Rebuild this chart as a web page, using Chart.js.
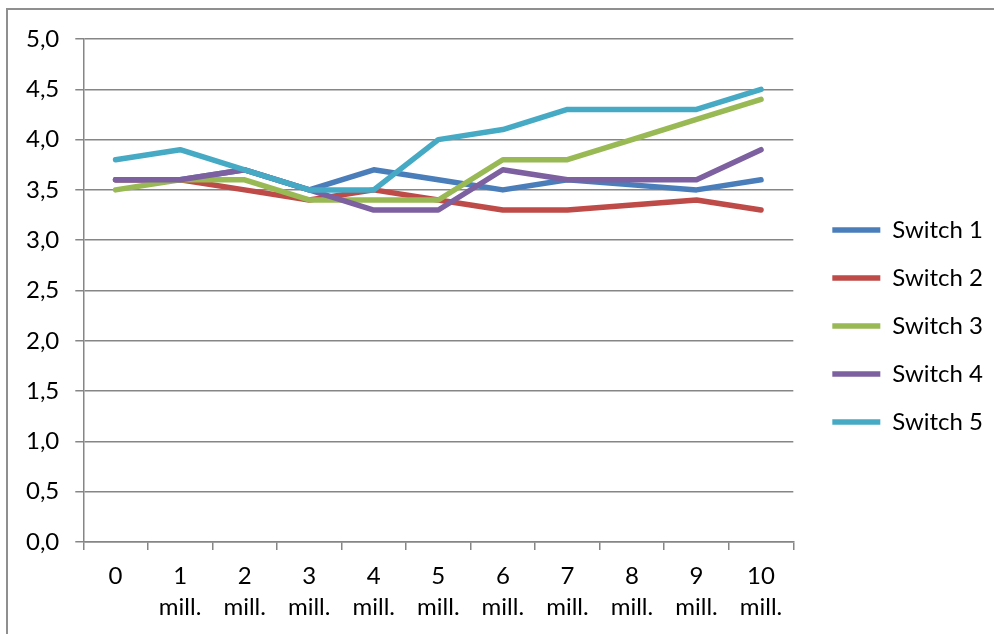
<!DOCTYPE html>
<html>
<head>
<meta charset="utf-8">
<script src="https://cdn.jsdelivr.net/npm/chart.js@4.4.1/dist/chart.umd.min.js"></script>
<style>
  html, body { margin: 0; padding: 0; background: #ffffff; }
  #wrap { width: 994px; height: 634px; position: relative; }
</style>
</head>
<body>
<div id="wrap"><canvas id="chart" width="994" height="634"></canvas></div>
<script>
// Category labels (two-line labels for the million marks)
const categories = [
  "0", ["1", "mill."], ["2", "mill."], ["3", "mill."], ["4", "mill."], ["5", "mill."],
  ["6", "mill."], ["7", "mill."], ["8", "mill."], ["9", "mill."], ["10", "mill."]
];

const seriesNames = ["Switch 1", "Switch 2", "Switch 3", "Switch 4", "Switch 5"];

const switch1 = [3.6, 3.6, 3.7, 3.5, 3.7, 3.6, 3.5, 3.6, 3.55, 3.5, 3.6];
const switch2 = [3.6, 3.6, 3.5, 3.4, 3.5, 3.4, 3.3, 3.3, 3.35, 3.4, 3.3];
const switch3 = [3.5, 3.6, 3.6, 3.4, 3.4, 3.4, 3.8, 3.8, 4.0, 4.2, 4.4];
const switch4 = [3.6, 3.6, 3.7, 3.5, 3.3, 3.3, 3.7, 3.6, 3.6, 3.6, 3.9];
const switch5 = [3.8, 3.9, 3.7, 3.5, 3.5, 4.0, 4.1, 4.3, 4.3, 4.3, 4.5];

const yTicksMin = 0;
const yTicksMax = 5;
const yTickStep = 0.5;

const seriesValues = [switch1, switch2, switch3, switch4, switch5];
const seriesColors = ["#4A7EBB", "#BE4B48", "#98B954", "#7D60A0", "#46AAC5"];

const gridColor = "#868686";

Chart.defaults.font.family = "Lato, 'Open Sans', sans-serif";
Chart.defaults.font.size = 24;
Chart.defaults.color = "#000000";

// Later series are painted on top of earlier ones
const datasets = seriesValues.map((vals, i) => ({
  label: seriesNames[i],
  data: vals,
  borderColor: seriesColors[i],
  backgroundColor: seriesColors[i],
  borderWidth: 5.5,
  borderCapStyle: "round",
  borderJoinStyle: "round",
  pointRadius: 0,
  pointHoverRadius: 0,
  pointStyle: "line",
  tension: 0,
  order: seriesValues.length - i
}));

// Outer frame around the chart
const framePlugin = {
  id: "frame",
  beforeDraw(chart) {
    const ctx = chart.ctx;
    ctx.save();
    ctx.strokeStyle = "#8f8f8f";
    ctx.lineWidth = 2;
    ctx.beginPath();
    ctx.moveTo(7, chart.height + 2);
    ctx.lineTo(7, 9);
    ctx.lineTo(chart.width + 2, 9);
    ctx.stroke();
    ctx.restore();
  }
};

// Nudge the legend block to sit a little off the plot area
const legendOffset = { x: 15, y: -5 };
const legendNudge = {
  id: "legendNudge",
  afterLayout(chart) {
    const lg = chart.legend;
    if (!lg) return;
    lg.left += legendOffset.x;
    lg.right += legendOffset.x;
    lg.top += legendOffset.y;
    lg.bottom += legendOffset.y;
  }
};

new Chart(document.getElementById("chart"), {
  type: "line",
  data: { labels: categories, datasets: datasets },
  plugins: [framePlugin, legendNudge],
  options: {
    responsive: false,
    devicePixelRatio: 1,
    animation: false,
    layout: { padding: { top: 39, bottom: 11, left: 10, right: 16 } },
    plugins: {
      tooltip: { enabled: false },
      legend: {
        position: "right",
        align: "center",
        labels: {
          usePointStyle: true,
          pointStyle: "line",
          pointStyleWidth: 48,
          padding: 24,
          color: "#000000",
          font: { size: 24 },
          sort: (a, b) => a.datasetIndex - b.datasetIndex
        }
      }
    },
    scales: {
      x: {
        type: "category",
        offset: true,
        grid: {
          display: true,
          offset: true,
          drawOnChartArea: false,
          drawTicks: true,
          tickLength: 8,
          color: gridColor,
          lineWidth: 1.5
        },
        border: { display: true, color: gridColor, width: 1.5 },
        ticks: {
          autoSkip: false,
          maxRotation: 0,
          minRotation: 0,
          padding: 11,
          color: "#000000",
          font: { size: 24, lineHeight: 31 / 24 }
        },
        afterFit(scale) {
          // keep only one tick padding below the labels
          scale.height -= scale.options.ticks.padding;
        }
      },
      y: {
        min: yTicksMin,
        max: yTicksMax,
        grid: {
          color: gridColor,
          lineWidth: 1.5,
          drawTicks: true,
          tickLength: 8
        },
        border: { display: true, color: gridColor, width: 1.5 },
        ticks: {
          stepSize: yTickStep,
          padding: 16,
          color: "#000000",
          font: { size: 24 },
          callback: (v) => Number(v).toFixed(1).replace(".", ",")
        }
      }
    }
  }
});
</script>
</body>
</html>
